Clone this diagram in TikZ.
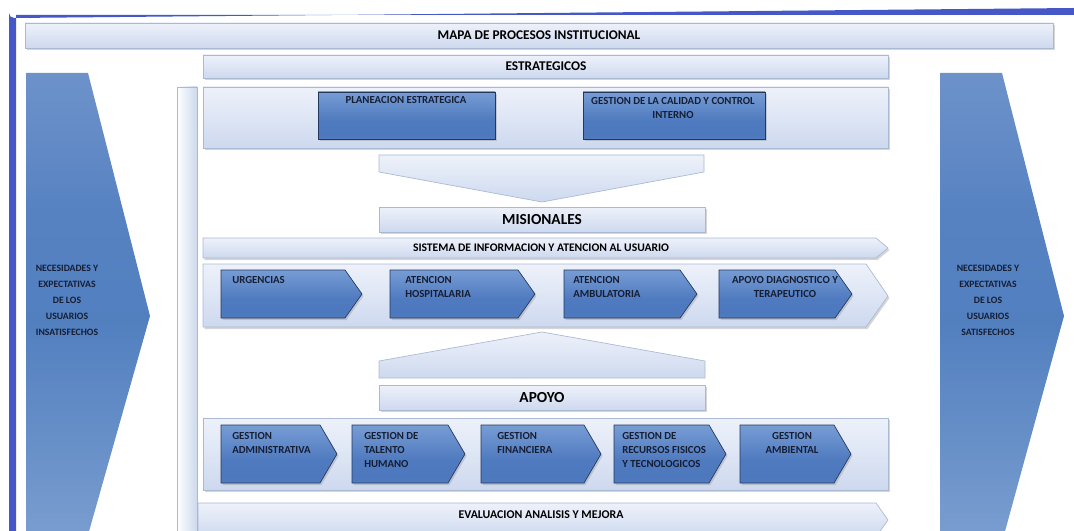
\documentclass[tikz,border=0pt]{standalone}
\usepackage{fontspec}
\setmainfont{Carlito}
\definecolor{frameblue}{RGB}{70,88,200}
\definecolor{barline}{RGB}{170,185,210}
\definecolor{barblue}{RGB}{192,207,232}
\definecolor{pbline}{RGB}{35,55,95}
\definecolor{txt}{RGB}{22,30,52}
\pgfdeclareverticalshading{procshade}{100bp}{rgb(0bp)=(0.42,0.57,0.80); rgb(30bp)=(0.30,0.47,0.74); rgb(45bp)=(0.31,0.48,0.75); rgb(85bp)=(0.52,0.66,0.86); rgb(100bp)=(0.63,0.74,0.89)}
\pgfdeclareverticalshading{sideshade}{100bp}{rgb(0bp)=(0.64,0.74,0.88); rgb(48bp)=(0.32,0.50,0.75); rgb(60bp)=(0.34,0.51,0.76); rgb(100bp)=(0.58,0.68,0.85)}
\pgfdeclareverticalshading{barshade}{100bp}{rgb(0bp)=(0.74,0.80,0.91); rgb(50bp)=(0.87,0.90,0.96); rgb(100bp)=(0.99,0.99,1.0)}
\tikzset{
  bar/.style={draw=barline, line width=0.5pt, shading=barshade},
  shadowed/.style={fill=black!45, opacity=0.35, draw=none},
  pbox/.style={draw=pbline, line width=0.5pt, shading=procshade},
  sidearrow/.style={draw=none, shading=sideshade},
  bartext/.style={font=\bfseries\fontsize{10}{12}\selectfont, text=black, inner sep=0pt},
  bigtext/.style={font=\bfseries\fontsize{11.5}{13}\selectfont, text=black, inner sep=0pt},
  ptext/.style={font=\bfseries\fontsize{8.1}{10.5}\selectfont, text=txt, inner sep=0pt, align=left},
  ctext/.style={font=\bfseries\fontsize{8.1}{10.5}\selectfont, text=txt, inner sep=0pt, align=center},
  stext/.style={font=\bfseries\fontsize{7.3}{12}\selectfont, text=txt, inner sep=0pt, align=center},
}
\newcommand\mychev[5]{% name, x1, x2, y1, y2
  \path[shadowed] ({#2+1.5},{#4+2}) -- ({#3-17+1.5},{#4+2}) -- ({#3+1.5},{(#4+#5)/2+2}) -- ({#3-17+1.5},{#5+2}) -- ({#2+1.5},{#5+2}) -- cycle;
  \path[pbox] (#2,#4) -- ({#3-17},#4) -- (#3,{(#4+#5)/2}) -- ({#3-17},#5) -- (#2,#5) -- cycle;
  \coordinate (#1) at (#2,#4);
}
\begin{document}
\begin{tikzpicture}[x=0.75pt,y=-0.75pt]
\useasboundingbox (0,0) rectangle (1074,531);
\clip (0,0) rectangle (1074,531);
\fill[white] (0,0) rectangle (1074,531);
% frame
\fill[frameblue] (9,531) -- (9,13) arc[start angle=180, end angle=90, radius=5] -- (1074,8) -- (1074,15) -- (16,15) -- (16,531) -- cycle;

% side arrows
\path[sidearrow] (26,73) -- (88,73) -- (150,316) -- (88,535) -- (26,535) -- cycle;
\path[sidearrow] (940,73) -- (1002,73) -- (1064,316) -- (1004,535) -- (940,535) -- cycle;
\node[stext, anchor=north] (lefttext) at (67,265) {NECESIDADES Y\\EXPECTATIVAS\\DE LOS\\USUARIOS\\INSATISFECHOS};
\node[stext, anchor=north] (righttext) at (988,265) {NECESIDADES Y\\EXPECTATIVAS\\DE LOS\\USUARIOS\\SATISFECHOS};

% title
\path[shadowed] (26.5,25) rectangle (1054.5,50);
\path[bar] (25,23) rectangle (1053,48);
\node[bartext] (title) at (539,35.5) {MAPA DE PROCESOS INSTITUCIONAL};

% estrategicos
\path[shadowed] (204.5,57) rectangle (889.5,80);
\path[bar] (203,55) rectangle (888,78);
\node[bartext] (estr) at (546,66.5) {ESTRATEGICOS};

% vertical bar
\path[draw=barline, line width=0.5pt, left color=white, right color=barblue!80] (177,87) rectangle (197,540);

% strategic container
\path[shadowed] (204.5,89) rectangle (889.5,150);
\path[bar] (203,87) rectangle (888,148);
\path[shadowed] (319.5,94) rectangle (496.5,141);
\path[pbox] (318,92) rectangle (495,139);
\node[ctext, anchor=north] (plan) at (406,96.5) {PLANEACION ESTRATEGICA};
\path[shadowed] (584.5,94) rectangle (766.5,141);
\path[pbox] (583,92) rectangle (765,139);
\node[ctext, anchor=north] (calidad) at (673,97) {GESTION DE LA CALIDAD Y CONTROL\\INTERNO};

% down chevron
\path[bar] (379,155) -- (704,155) -- (704,172) -- (542,202) -- (379,172) -- cycle;

% misionales
\path[shadowed] (380.5,209) rectangle (706.5,234);
\path[bar] (379,207) rectangle (705,232);
\node[bigtext] (mis) at (542,219.5) {MISIONALES};

% sistema
\path[shadowed] (204.5,240) -- (877.5,240) -- (889.5,250) -- (877.5,260) -- (204.5,260) -- cycle;
\path[bar] (203,238) -- (876,238) -- (888,248) -- (876,258) -- (203,258) -- cycle;
\node[bartext, font=\bfseries\fontsize{8.7}{10}\selectfont] (sist) at (541,247.5) {SISTEMA DE INFORMACION Y ATENCION AL USUARIO};

% misional container
\path[shadowed] (204.5,266) -- (867.5,266) -- (889.5,298) -- (867.5,329) -- (204.5,329) -- cycle;
\path[bar] (203,264) -- (866,264) -- (888,296) -- (866,327) -- (203,327) -- cycle;
\mychev{urg}{221}{362}{270}{318}
\mychev{hosp}{390}{535}{270}{318}
\mychev{amb}{564}{697}{270}{318}
\mychev{diag}{719}{852}{270}{318}
\node[ptext, anchor=north west] (urgt) at (232,276.5) {URGENCIAS};
\node[ptext, anchor=north west] (hospt) at (405,276.5) {ATENCION\\HOSPITALARIA};
\node[ptext, anchor=north west] (ambt) at (573,276.5) {ATENCION\\AMBULATORIA};
\node[ctext, anchor=north] (diagt) at (785,276.5) {APOYO DIAGNOSTICO Y\\TERAPEUTICO};

% up chevron
\path[bar] (379,378) -- (379,361) -- (542,332) -- (705,361) -- (705,378) -- cycle;

% apoyo
\path[shadowed] (380.5,387) rectangle (706.5,412);
\path[bar] (379,385) rectangle (705,410);
\node[bigtext] (apoyo) at (542,397.5) {APOYO};

% apoyo container
\path[shadowed] (204.5,420) rectangle (889.5,492);
\path[bar] (203,418) rectangle (888,490);
\mychev{adm}{221}{337}{425}{483}
\mychev{tal}{352}{465}{425}{483}
\mychev{fin}{481}{601}{425}{483}
\mychev{rec}{614}{726}{425}{483}
\mychev{amb2}{740}{851}{425}{483}
\node[ptext, anchor=north west] (admt) at (232,432.5) {GESTION\\ADMINISTRATIVA};
\node[ptext, anchor=north west] (talt) at (364,432.5) {GESTION DE\\TALENTO\\HUMANO};
\node[ptext, anchor=north west] (fint) at (497,432.5) {GESTION\\FINANCIERA};
\node[ptext, anchor=north west] (rect) at (622,432.5) {GESTION DE\\RECURSOS FISICOS\\Y TECNOLOGICOS};
\node[ctext, anchor=north] (ambt2) at (792,432.5) {GESTION\\AMBIENTAL};

% evaluacion
\path[bar] (198,503) -- (876,503) -- (888,520) -- (876,537) -- (198,537) -- cycle;
\node[bartext, font=\bfseries\fontsize{8.9}{10}\selectfont] (eval) at (541,515) {EVALUACION ANALISIS Y MEJORA};
\end{tikzpicture}
\end{document}
